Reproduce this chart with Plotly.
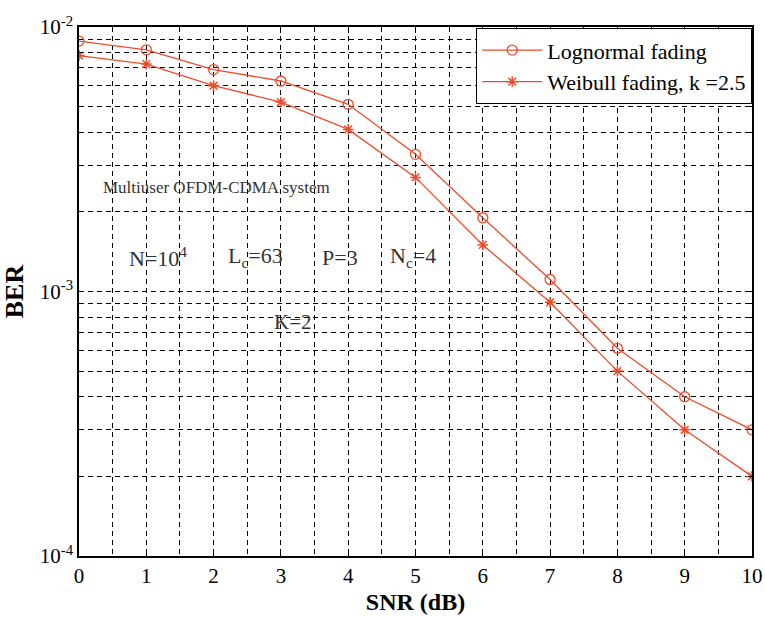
import plotly.graph_objects as go

snr = [0, 1, 2, 3, 4, 5, 6, 7, 8, 9, 10]
ber_lognormal = [0.00885, 0.0082, 0.0069, 0.00625, 0.0051, 0.0033, 0.0019, 0.00111, 0.00061, 0.0004, 0.0003]
ber_weibull = [0.0078, 0.00724, 0.006, 0.0052, 0.0041, 0.0027, 0.0015, 0.00091, 0.0005, 0.0003, 0.0002]

x_ticks = list(range(0, 11))
y_major = [1e-4, 1e-3, 1e-2]
y_major_text = ["10<sup>-4</sup>", "10<sup>-3</sup>", "10<sup>-2</sup>"]
y_minor = [m * d for d in [1e-4, 1e-3] for m in range(2, 10)]

red = "#EE4B2B"
font_family = "Liberation Serif, Times New Roman, serif"
dash = "5px,4px"

fig = go.Figure()
fig.add_trace(go.Scatter(
    x=snr, y=ber_lognormal, mode="lines+markers", name="Lognormal fading",
    line=dict(color=red, width=1.3),
    marker=dict(symbol="circle-open", size=10, color=red, line=dict(width=1.3)),
))
fig.add_trace(go.Scatter(
    x=snr, y=ber_weibull, mode="lines+markers", name="Weibull fading, k =2.5",
    line=dict(color=red, width=1.3),
    marker=dict(symbol="asterisk-open", size=9, color=red, line=dict(width=1.5)),
))

annotations = [
    dict(x=2.05, y=-2.605, text="Multiuser OFDM-CDMA system", size=17),
    dict(x=1.17, y=-2.87, text="N=10<sup>4</sup>", size=22),
    dict(x=2.62, y=-2.87, text="L<sub>c</sub>=63", size=22),
    dict(x=3.88, y=-2.87, text="P=3", size=22),
    dict(x=4.96, y=-2.87, text="N<sub>c</sub>=4", size=22),
    dict(x=3.18, y=-3.115, text="K=2", size=21),
]
for a in annotations:
    fig.add_annotation(x=a["x"], y=a["y"], text=a["text"], showarrow=False,
                       font=dict(family=font_family, size=a["size"], color="#333333"),
                       xref="x", yref="y")

fig.update_layout(
    width=765, height=617,
    margin=dict(l=79, r=13, t=27, b=61),
    paper_bgcolor="white", plot_bgcolor="white",
    font=dict(family=font_family, size=21, color="black"),
    legend=dict(
        x=1.0, y=0.998, xanchor="right", yanchor="top",
        bgcolor="white", bordercolor="black", borderwidth=1.2,
        font=dict(family=font_family, size=22, color="black"),
        itemwidth=60, tracegroupgap=0,
    ),
    xaxis=dict(
        range=[0, 10], tickvals=x_ticks, ticks="inside", ticklen=6,
        tickcolor="black", showline=True, mirror="ticks", linecolor="black",
        linewidth=1.5, showgrid=True, gridcolor="black", griddash=dash,
        gridwidth=1.2, zeroline=False, automargin=False,
        minor=dict(dtick=0.5, tick0=0, showgrid=True, gridcolor="black",
                   griddash=dash, gridwidth=1.2, ticks=""),
        title=dict(text="<b>SNR (dB)</b>", font=dict(size=24), standoff=6),
        tickfont=dict(size=21),
    ),
    yaxis=dict(
        type="log", range=[-4, -2], tickvals=y_major, ticktext=y_major_text,
        ticks="inside", ticklen=5, tickcolor="black", showline=True,
        mirror="ticks", linecolor="black", linewidth=1.5, showgrid=True,
        gridcolor="black", griddash=dash, gridwidth=1.2, zeroline=False,
        automargin=False,
        minor=dict(tickvals=y_minor, showgrid=True, gridcolor="black",
                   griddash=dash, gridwidth=1.2, ticks="inside", ticklen=4,
                   tickcolor="black"),
        title=dict(text="<b>BER</b>", font=dict(size=26), standoff=10),
        tickfont=dict(size=21),
    ),
)

fig.write_html("out.html")
